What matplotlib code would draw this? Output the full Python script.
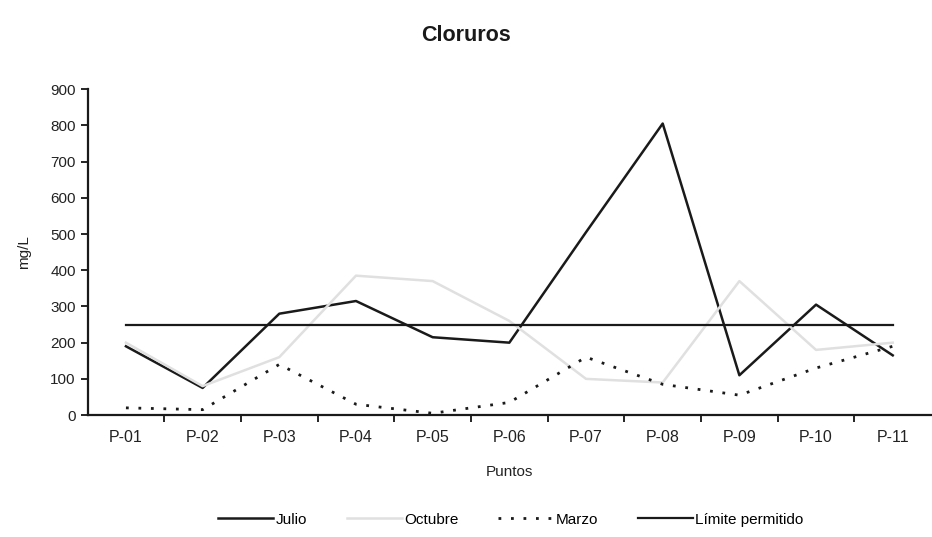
import matplotlib
matplotlib.use("Agg")
import matplotlib.pyplot as plt

# puntos de muestreo y concentraciones de cloruros (mg/L)
puntos = ["P-01", "P-02", "P-03", "P-04", "P-05", "P-06",
          "P-07", "P-08", "P-09", "P-10", "P-11"]
julio = [190, 75, 280, 315, 215, 200, 505, 805, 110, 305, 165]
octubre = [200, 80, 160, 385, 370, 260, 100, 90, 370, 180, 200]
marzo = [20, 15, 140, 30, 5, 35, 160, 85, 55, 130, 190]
limite = [250] * len(puntos)

plt.rcParams['font.family'] = ['Liberation Sans', 'DejaVu Sans']

fig = plt.figure(figsize=(9.32, 5.37), dpi=100)
ax = fig.add_axes([0.094, 0.227, 0.905, 0.607])

x = list(range(len(puntos)))
ax.plot(x, julio, color="#1a1a1a", lw=1.8, label="Julio")
ax.plot(x, octubre, color="#e0e0e0", lw=1.8, label="Octubre")
ax.plot(x, marzo, color="#1a1a1a", lw=2.0, linestyle=(0, (1, 3.5)), label="Marzo")
ax.plot(x, limite, color="#1a1a1a", lw=1.6, label="Límite permitido")

ax.set_xlim(-0.5, len(puntos) - 0.5)
ax.set_ylim(0, 900)
ax.set_yticks(range(0, 901, 100))

# etiquetas en el centro de cada punto, marcas entre categorías
ax.set_xticks(x)
ax.set_xticklabels(puntos, fontsize=11.5, color="#222222")
ax.set_xticks([i + 0.5 for i in x[:-1]], minor=True)
ax.tick_params(axis="x", which="major", length=0, pad=11)
ax.tick_params(axis="x", which="minor", length=5, width=1.2, direction="out")
ax.tick_params(axis="y", length=5, width=1.2, labelsize=11, labelcolor="#222222")

for side in ["top", "right"]:
    ax.spines[side].set_visible(False)
for side in ["left", "bottom"]:
    ax.spines[side].set_linewidth(1.6)
    ax.spines[side].set_color("#1a1a1a")

ax.set_xlabel("Puntos", fontsize=11, color="#222222", labelpad=14)
ax.set_ylabel("mg/L", fontsize=11, color="#222222", labelpad=14)
fig.suptitle("Cloruros", fontsize=15.5, fontweight="bold", color="#1a1a1a", y=0.953)

fig.legend(loc="center", bbox_to_anchor=(0.548, 0.032), ncol=4, frameon=False,
           fontsize=11, handlelength=3.6, handletextpad=0.15, columnspacing=2.6)

fig.savefig("out.png", dpi=100, facecolor="white")
